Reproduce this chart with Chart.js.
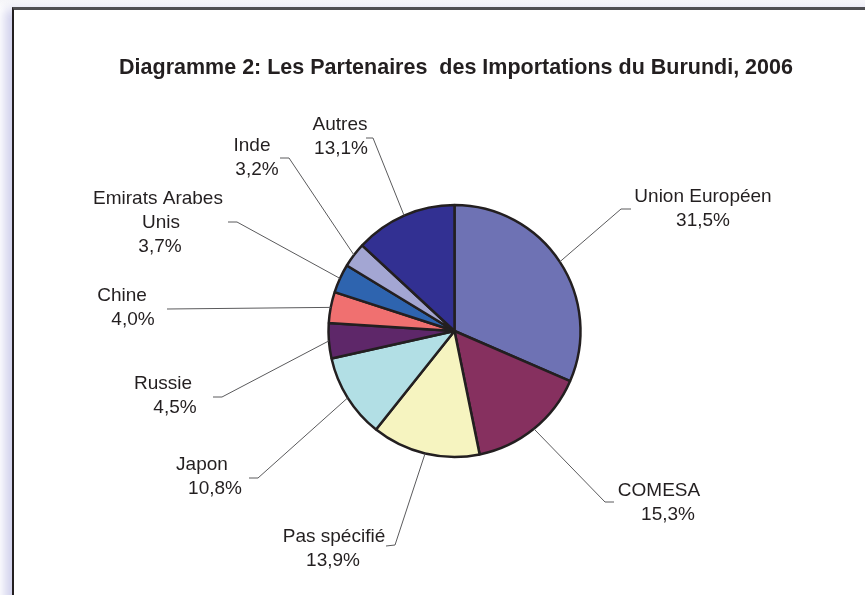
<!DOCTYPE html>
<html>
<head>
<meta charset="utf-8">
<script src="https://cdn.jsdelivr.net/npm/chart.js@4.4.1/dist/chart.umd.min.js"></script>
<style>
    html, body { margin: 0; padding: 0; background: #fff; overflow: hidden; }
    body { width: 865px; height: 595px; position: relative; background: linear-gradient(#f6f6f9, #fff 10px); }
    .frame {
        position: absolute; left: 12px; top: 7px; width: 900px; height: 700px;
        background: #fff;
        border-left: 2px solid #231F20;
        border-top: 3px solid #4f4f52;
        box-shadow: -7px 2px 10px rgba(120, 120, 200, 0.35);
    }
    #pieChart { position: absolute; left: 0; top: 0; }
</style>
</head>
<body>
<div class="frame"></div>
<canvas id="pieChart" width="865" height="595"></canvas>
<script>
const chartTitle = 'Diagramme 2: Les Partenaires  des Importations du Burundi, 2006';

// partenaires, dans le sens des aiguilles d'une montre depuis le haut
const partners = ['Union Européen', 'COMESA', 'Pas spécifié', 'Japon', 'Russie', 'Chine', 'Emirats Arabes Unis', 'Inde', 'Autres'];
const shares = [31.5, 15.3, 13.9, 10.8, 4.5, 4.0, 3.7, 3.2, 13.1];
const labelLines = [
    ['Union Européen', '31,5%'],
    ['COMESA', '15,3%'],
    ['Pas spécifié', '13,9%'],
    ['Japon', '10,8%'],
    ['Russie', '4,5%'],
    ['Chine', '4,0%'],
    ['Emirats Arabes', 'Unis', '3,7%'],
    ['Inde', '3,2%'],
    ['Autres', '13,1%']
];

const sliceColors = ['#6E72B4', '#86305F', '#F6F4C0', '#B2DFE5', '#5E2769', '#F07070', '#2E64AF', '#A3A6D3', '#323092'];

// where each label sits: line centres, first line y, elbow of the leader line, end of the short tick
const labelLayout = [
    { x: [703, 703], y: 197, elbow: [621, 209], tick: [631, 209] },
    { x: [659, 668], y: 491, elbow: [605, 502], tick: [614, 502] },
    { x: [334, 333], y: 537, elbow: [395, 545], tick: [386, 546] },
    { x: [202, 215], y: 465, elbow: [258, 478], tick: [249, 478] },
    { x: [163, 175], y: 384, elbow: [222, 397], tick: [213, 397] },
    { x: [122, 133], y: 296, elbow: [167, 309], tick: null },
    { x: [158, 161, 160], y: 199, elbow: [237, 222], tick: [228, 222] },
    { x: [252, 257], y: 146, elbow: [289, 158], tick: [280, 158] },
    { x: [340, 341], y: 125, elbow: [373, 138], tick: [366, 138] }
];

const leaderLabels = {
    id: 'leaderLabels',
    afterDraw(chart) {
        const ctx = chart.ctx;
        const arcs = chart.getDatasetMeta(0).data;
        ctx.save();

        // title
        ctx.fillStyle = '#231F20';
        ctx.font = 'bold 21.5px "Liberation Sans", Arial, sans-serif';
        ctx.textAlign = 'center';
        ctx.textBaseline = 'alphabetic';
        ctx.fillText(chartTitle, 456, 74);

        ctx.textBaseline = 'middle';
        arcs.forEach((arc, i) => {
            const p = arc.getProps(['x', 'y', 'startAngle', 'endAngle', 'outerRadius'], true);
            const mid = (p.startAngle + p.endAngle) / 2;
            const sx = p.x + Math.cos(mid) * p.outerRadius;
            const sy = p.y + Math.sin(mid) * p.outerRadius;
            const lay = labelLayout[i];

            ctx.strokeStyle = '#5a5a5c';
            ctx.lineWidth = 1;
            ctx.beginPath();
            ctx.moveTo(sx, sy);
            ctx.lineTo(lay.elbow[0], lay.elbow[1]);
            if (lay.tick) ctx.lineTo(lay.tick[0], lay.tick[1]);
            ctx.stroke();

            ctx.fillStyle = '#231F20';
            ctx.font = '19px "Liberation Sans", Arial, sans-serif';
            labelLines[i].forEach((txt, j) => {
                ctx.fillText(txt, lay.x[j], lay.y + j * 24);
            });
        });
        ctx.restore();
    }
};

new Chart(document.getElementById('pieChart').getContext('2d'), {
    type: 'pie',
    data: {
        labels: partners,
        datasets: [{
            data: shares,
            backgroundColor: sliceColors,
            borderColor: '#231F20',
            borderWidth: 2.5,
            hoverOffset: 0
        }]
    },
    options: {
        responsive: false,
        animation: false,
        radius: 126,
        layout: { padding: { left: 150, right: 106, top: 160, bottom: 93 } },
        plugins: {
            legend: { display: false },
            tooltip: { enabled: false }
        },
        events: []
    },
    plugins: [leaderLabels]
});
</script>
</body>
</html>
